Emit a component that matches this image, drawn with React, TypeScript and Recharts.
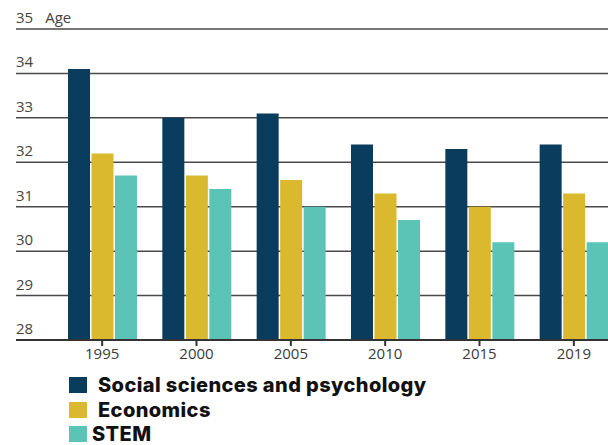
import { Bar, BarChart, CartesianGrid, XAxis, YAxis } from 'recharts';

const years = ['1995', '2000', '2005', '2010', '2015', '2019'];
const socialSciences = [34.1, 33.0, 33.1, 32.4, 32.3, 32.4];
const economics = [32.2, 31.7, 31.6, 31.3, 31.0, 31.3];
const stem = [31.7, 31.4, 31.0, 30.7, 30.2, 30.2];
const ageTicks = [28, 29, 30, 31, 32, 33, 34, 35];

const series = [
  { key: 'social', name: 'Social sciences and psychology', color: '#0a3c5e' },
  { key: 'economics', name: 'Economics', color: '#dab92e' },
  { key: 'stem', name: 'STEM', color: '#5bc4b6' },
];

const data = years.map((year, i) => ({
  year,
  social: socialSciences[i],
  economics: economics[i],
  stem: stem[i],
}));

const FONT = '"Open Sans", "Liberation Sans", sans-serif';
const LEGEND_FONT = 'Inter, "Open Sans", sans-serif';

// labels sit above the grid lines, flush with the left edge of the grid
const renderAgeTick = (props: any) => {
  const { y, payload } = props;
  return (
    <text x={16} y={y - 6} fill="#444" fontSize={15} fontFamily={FONT} textAnchor="start">
      {payload.value}
      {payload.value === 35 ? <tspan dx={12}>Age</tspan> : null}
    </text>
  );
};

export default function App() {
  return (
    <div style={{ position: 'absolute', left: 0, top: 0, width: 608, height: 445, overflow: 'hidden', background: '#fff' }}>
      <BarChart
        width={621}
        height={445}
        data={data}
        margin={{ top: 29, right: 0, left: 0, bottom: 75 }}
        barSize={22}
        barGap={1.5}
      >
        <CartesianGrid vertical={false} stroke="#4a4a4a" strokeWidth={1.5} />
        <XAxis
          dataKey="year"
          padding={{ left: 39, right: 0 }}
          height={30}
          stroke="#333"
          strokeWidth={2}
          tickSize={6}
          tick={{ fontSize: 15, fill: '#3a3a3a', fontFamily: FONT }}
        />
        <YAxis
          width={16}
          domain={[28, 35]}
          ticks={ageTicks}
          interval={0}
          axisLine={false}
          tickLine={false}
          tick={renderAgeTick}
        />
        {series.map((s) => (
          <Bar key={s.key} dataKey={s.key} name={s.name} fill={s.color} isAnimationActive={false} />
        ))}
      </BarChart>
      <div style={{ position: 'absolute', left: 69, top: 373, fontFamily: LEGEND_FONT }}>
        {series.map((s, i) => (
          <div key={s.key} style={{ display: 'flex', alignItems: 'center', height: 24.5 }}>
            <span style={{ width: 18, height: 16, background: s.color, marginRight: i === 2 ? 5 : 11, flexShrink: 0 }} />
            <span style={{ fontSize: 20, fontWeight: 800, letterSpacing: 0.4, color: '#111', lineHeight: '20px', whiteSpace: 'nowrap' }}>{s.name}</span>
          </div>
        ))}
      </div>
    </div>
  );
}
